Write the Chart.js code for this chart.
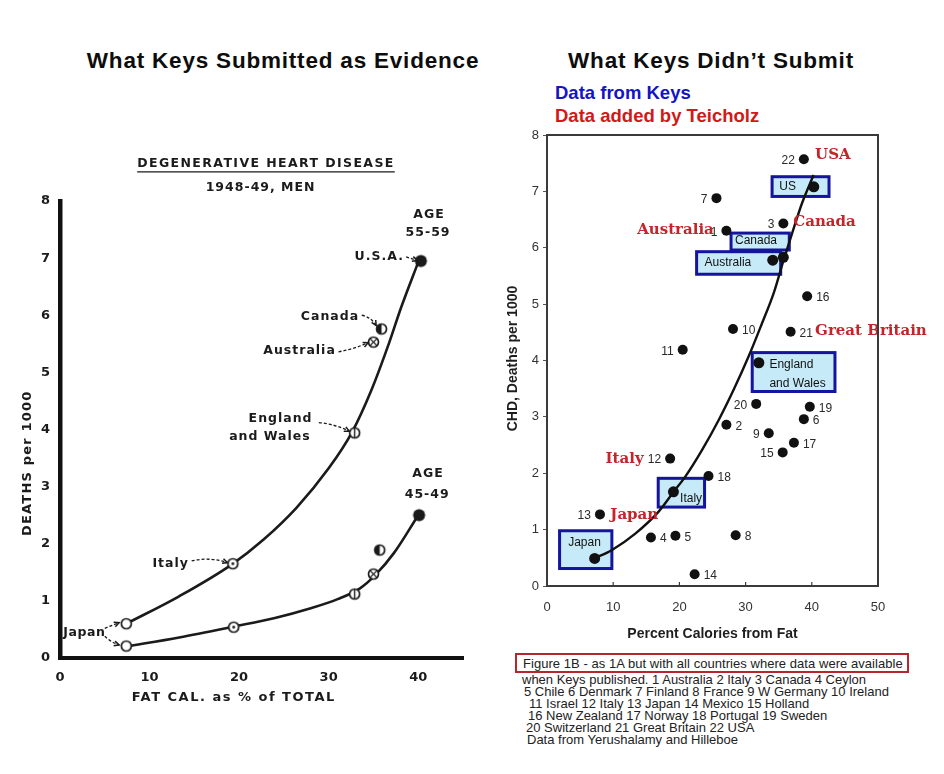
<!DOCTYPE html>
<html>
<head>
<meta charset="utf-8">
<script src="https://cdn.jsdelivr.net/npm/chart.js@4.4.1/dist/chart.umd.min.js"></script>
<style>
html,body{margin:0;padding:0;background:#fff;}
#wrap{position:relative;width:944px;height:774px;overflow:hidden;background:#fff;font-family:"Liberation Sans",Arial,sans-serif;}
.h{position:absolute;white-space:nowrap;font-weight:bold;}
.big{font-size:22.5px;line-height:24px;letter-spacing:0.8px;color:#0d0d0d;transform:translateX(-50%);}
.sub{font-size:18.5px;line-height:20px;}
.cap{position:absolute;white-space:nowrap;font-size:13px;line-height:14px;color:#222;}
#capbox{position:absolute;left:515px;top:653px;width:390px;height:16px;border:2px solid #b3272d;}
canvas{position:absolute;}
</style>
</head>
<body>
<div id="wrap">
  <div class="h big" style="left:283px;top:49px;">What Keys Submitted as Evidence</div>
  <div class="h big" style="left:711px;top:49px;">What Keys Didn’t Submit</div>
  <div class="h sub" style="left:555px;top:83px;color:#1414c4;">Data from Keys</div>
  <div class="h sub" style="left:555px;top:106px;color:#d21818;">Data added by Teicholz</div>

  <canvas id="left" width="470" height="580" style="left:0px;top:140px;"></canvas>
  <canvas id="right" width="454" height="530" style="left:490px;top:120px;"></canvas>

  <div id="capbox"></div>
  <div class="cap" style="left:523px;top:657px;letter-spacing:0.05px;">Figure 1B - as 1A but with all countries where data were available</div>
  <div class="cap" style="left:522px;top:673px;">when Keys published. 1 Australia 2 Italy 3 Canada 4 Ceylon</div>
  <div class="cap" style="left:524px;top:685px;">5 Chile 6 Denmark 7 Finland 8 France 9 W Germany 10 Ireland</div>
  <div class="cap" style="left:529px;top:697px;">11 Israel 12 Italy 13 Japan 14 Mexico 15 Holland</div>
  <div class="cap" style="left:528px;top:709px;">16 New Zealand 17 Norway 18 Portugal 19 Sweden</div>
  <div class="cap" style="left:526px;top:721px;">20 Switzerland 21 Great Britain 22 USA</div>
  <div class="cap" style="left:527px;top:733px;">Data from Yerushalamy and Hilleboe</div>
</div>

<script>
// ---------------- LEFT CHART DATA (Keys, 1948-49, men) ----------------
const leftCountries = ['Japan', 'Italy', 'England and Wales', 'Australia', 'Canada', 'U.S.A.'];
const leftMarkers   = ['open', 'dot', 'bar', 'cross', 'half', 'solid'];
const fat5559    = [7.4, 19.3, 32.9, 35.0, 35.9, 40.3];
const deaths5559 = [0.60, 1.65, 3.94, 5.53, 5.76, 6.95];
const fat4549    = [7.4, 19.4, 32.9, 35.0, 35.7, 40.1];
const deaths4549 = [0.21, 0.54, 1.12, 1.47, 1.89, 2.50];
// hand-drawn curves
const curve5559X = [7.4, 13.3, 19.2, 22.7, 26.4, 30.0, 32.6, 34.8, 36.6, 38.1, 40.1];
const curve5559Y = [0.60, 1.08, 1.64, 2.07, 2.63, 3.32, 3.95, 4.70, 5.45, 6.14, 6.97];
const curve4549X = [7.4, 13.3, 19.4, 24.0, 28.0, 31.0, 33.5, 35.2, 37.3, 40.0];
const curve4549Y = [0.20, 0.36, 0.55, 0.70, 0.87, 1.03, 1.22, 1.45, 1.84, 2.50];
const leftXTicks = [0, 10, 20, 30, 40];
const leftYTicks = [0, 1, 2, 3, 4, 5, 6, 7, 8];

// ---------------- RIGHT CHART DATA (all 22 countries) ----------------
const rightNums = ['1','2','3','4','5','6','7','8','9','10','11','12','13','14','15','16','17','18','19','20','21','22'];
const rightFat  = [27.1, 27.1, 35.7, 15.7, 19.4, 38.8, 25.6, 28.5, 33.5, 28.1, 20.5, 18.6, 8.0, 22.3, 35.6, 39.3, 37.3, 24.4, 39.7, 31.6, 36.8, 38.8];
const rightCHD  = [6.30, 2.86, 6.43, 0.86, 0.89, 2.96, 6.88, 0.90, 2.71, 4.56, 4.19, 2.26, 1.27, 0.21, 2.37, 5.14, 2.54, 1.95, 3.18, 3.23, 4.51, 7.57];
const rightLabelSide = ['l','r','l','r','r','r','l','r','l','r','l','l','l','r','l','r','r','r','r','l','r','l'];
const keysCountries = ['Japan', 'Italy', 'England and Wales', 'Australia', 'Canada', 'US'];
const keysFat = [7.2, 19.1, 32.0, 34.1, 35.7, 40.3];
const keysCHD = [0.49, 1.67, 3.96, 5.78, 5.83, 7.08];
const fitX = [7.19, 9.82, 13.34, 16.86, 19.12, 20.89, 23.41, 25.92, 28.19, 30.45, 32.48, 34.23, 35.74, 37.01, 38.52, 40.27];
const fitY = [0.49, 0.64, 0.93, 1.32, 1.67, 1.94, 2.41, 2.94, 3.48, 4.07, 4.66, 5.19, 5.78, 6.25, 6.79, 7.29];
const rightXTicks = [0, 10, 20, 30, 40, 50];
const rightYTicks = [0, 1, 2, 3, 4, 5, 6, 7, 8];

// ---------------- annotations ----------------
const INK = '#1b1b1b';
const NOTE_FONT = 'bold 12.5px "DejaVu Sans"';
const leftNotes = [
  {t:'DEGENERATIVE HEART DISEASE', x:23.0, y:8.65, a:'center', u:true, ls:'1.4px'},
  {t:'1948-49, MEN', x:22.4, y:8.23, a:'center'},
  {t:'AGE', x:41.2, y:7.76, a:'center'},
  {t:'55-59', x:41.1, y:7.44, a:'center'},
  {t:'U.S.A.', x:38.4, y:7.02, a:'right'},
  {t:'Canada', x:33.4, y:5.97, a:'right'},
  {t:'Australia', x:30.8, y:5.38, a:'right'},
  {t:'England', x:28.2, y:4.19, a:'right'},
  {t:'and Wales', x:28.0, y:3.87, a:'right'},
  {t:'AGE', x:41.1, y:3.22, a:'center'},
  {t:'45-49', x:41.0, y:2.85, a:'center'},
  {t:'Italy', x:14.4, y:1.65, a:'right'},
  {t:'Japan', x:0.35, y:0.44, a:'left', ls:'0.6px'}
];
const leftArrows = [
  {x1:38.65, y1:7.02, x2:39.9, y2:6.96, b:0},
  {x1:33.7, y1:6.0, x2:35.3, y2:5.82, b:4},
  {x1:31.1, y1:5.36, x2:34.4, y2:5.52, b:-2},
  {x1:28.9, y1:4.12, x2:32.3, y2:3.97, b:3},
  {x1:14.7, y1:1.70, x2:18.7, y2:1.67, b:5},
  {x1:5.0, y1:0.52, x2:6.6, y2:0.62, b:0},
  {x1:5.0, y1:0.38, x2:6.6, y2:0.23, b:-2}
];
const keysBoxes = [
  {x1:34.0, x2:42.6, y1:6.91, y2:7.26, tx:35.1, lines:['US'], ty:[7.08]},
  {x1:27.8, x2:36.6, y1:5.96, y2:6.26, tx:28.4, lines:['Canada'], ty:[6.12]},
  {x1:22.6, x2:35.3, y1:5.53, y2:5.93, tx:23.8, lines:['Australia'], ty:[5.73]},
  {x1:31.0, x2:43.5, y1:3.45, y2:4.14, tx:33.6, lines:['England','and Wales'], ty:[3.92, 3.58]},
  {x1:16.8, x2:23.8, y1:1.40, y2:1.91, tx:20.1, lines:['Italy'], ty:[1.54]},
  {x1:1.9, x2:9.8, y1:0.31, y2:0.98, tx:3.2, lines:['Japan'], ty:[0.76]}
];
const teicholzLabels = [
  {t:'USA', x:40.5, y:7.64, a:'left'},
  {t:'Canada', x:37.2, y:6.45, a:'left'},
  {t:'Australia', x:25.2, y:6.31, a:'right'},
  {t:'Great Britain', x:40.5, y:4.53, a:'left'},
  {t:'Italy', x:14.6, y:2.25, a:'right'},
  {t:'Japan', x:9.56, y:1.25, a:'left'}
];

function makeMarker(kind){
  const c = document.createElement('canvas');
  c.width = 15; c.height = 15;
  const g = c.getContext('2d');
  const cx = 7.5, cy = 7.5, r = 5;
  g.fillStyle = '#fff';
  g.beginPath(); g.arc(cx, cy, r, 0, Math.PI*2); g.fill();
  g.fillStyle = INK; g.strokeStyle = INK; g.lineWidth = 1.7;
  if (kind === 'solid') { g.beginPath(); g.arc(cx, cy, r+0.9, 0, Math.PI*2); g.fill(); }
  if (kind === 'half') { g.beginPath(); g.moveTo(cx, cy-r); g.arc(cx, cy, r, -Math.PI/2, Math.PI/2, true); g.closePath(); g.fill(); }
  g.beginPath(); g.arc(cx, cy, r, 0, Math.PI*2); g.stroke();
  if (kind === 'dot') { g.beginPath(); g.arc(cx, cy, 1.4, 0, Math.PI*2); g.fill(); }
  if (kind === 'bar') { g.lineWidth = 1.4; g.beginPath(); g.moveTo(cx, cy-r); g.lineTo(cx, cy+r); g.stroke(); }
  if (kind === 'cross') { const d = r*0.72; g.lineWidth = 1.3; g.beginPath(); g.moveTo(cx-d, cy-d); g.lineTo(cx+d, cy+d); g.moveTo(cx+d, cy-d); g.lineTo(cx-d, cy+d); g.stroke(); }
  return c;
}
const markerImgs = leftMarkers.map(makeMarker);

function drawArrow(ctx, x1, y1, x2, y2, bend){
  const dx = x2-x1, dy = y2-y1, len = Math.hypot(dx, dy) || 1;
  const nx = dy/len, ny = -dx/len;
  const cx = (x1+x2)/2 + nx*bend, cy = (y1+y2)/2 + ny*bend;
  ctx.save();
  ctx.lineWidth = 1.3; ctx.setLineDash([3, 2]);
  ctx.beginPath(); ctx.moveTo(x1, y1); ctx.quadraticCurveTo(cx, cy, x2, y2); ctx.stroke();
  ctx.setLineDash([]);
  const ang = Math.atan2(y2-cy, x2-cx), h = 5.5;
  ctx.lineWidth = 1.5;
  ctx.beginPath();
  ctx.moveTo(x2 - h*Math.cos(ang-0.45), y2 - h*Math.sin(ang-0.45));
  ctx.lineTo(x2, y2);
  ctx.lineTo(x2 - h*Math.cos(ang+0.45), y2 - h*Math.sin(ang+0.45));
  ctx.stroke();
  ctx.restore();
}

const leftPlugin = {
  id: 'leftNotes',
  afterDatasetsDraw(chart){
    const {ctx, chartArea, scales:{x, y}} = chart;
    const X = v => x.getPixelForValue(v), Y = v => y.getPixelForValue(v);
    ctx.save();
    ctx.fillStyle = INK; ctx.strokeStyle = INK;
    ctx.textBaseline = 'middle';
    ctx.font = NOTE_FONT;
    leftNotes.forEach(n => {
      ctx.letterSpacing = n.ls || '1px';
      ctx.textAlign = n.a;
      ctx.fillText(n.t, X(n.x), Y(n.y));
      if (n.u) {
        const w = ctx.measureText(n.t).width;
        const px = X(n.x), py = Y(n.y) + 8;
        ctx.lineWidth = 1.3;
        ctx.beginPath(); ctx.moveTo(px - w/2, py); ctx.lineTo(px + w/2, py); ctx.stroke();
      }
    });
    leftArrows.forEach(a => drawArrow(ctx, X(a.x1), Y(a.y1), X(a.x2), Y(a.y2), a.b));
    // axis titles
    ctx.font = 'bold 13px "DejaVu Sans"';
    ctx.letterSpacing = '1.5px';
    ctx.textAlign = 'center';
    ctx.fillText('FAT CAL. as % of TOTAL', X(19.4), chartArea.bottom + 40);
    ctx.save();
    ctx.translate(chartArea.left - 32, Y(3.41));
    ctx.rotate(-Math.PI/2);
    ctx.letterSpacing = '1.2px';
    ctx.fillText('DEATHS per 1000', 0, 0);
    ctx.restore();
    ctx.restore();
  }
};

const rightPlugin = {
  id: 'rightNotes',
  beforeDatasetsDraw(chart){
    const {ctx, scales:{x, y}} = chart;
    const X = v => x.getPixelForValue(v), Y = v => y.getPixelForValue(v);
    ctx.save();
    keysBoxes.forEach(b => {
      const l = X(b.x1), r = X(b.x2), t = Y(b.y2), bo = Y(b.y1);
      ctx.fillStyle = '#c6eaf8';
      ctx.fillRect(l, t, r-l, bo-t);
      ctx.strokeStyle = '#14149e'; ctx.lineWidth = 3;
      ctx.strokeRect(l, t, r-l, bo-t);
      ctx.fillStyle = '#111';
      ctx.font = '12px "Liberation Sans"';
      ctx.textAlign = 'left'; ctx.textBaseline = 'middle';
      b.lines.forEach((s, i) => ctx.fillText(s, X(b.tx), Y(b.ty[i])));
    });
    ctx.restore();
  },
  afterDatasetsDraw(chart){
    const {ctx, chartArea, scales:{x, y}} = chart;
    const X = v => x.getPixelForValue(v), Y = v => y.getPixelForValue(v);
    ctx.save();
    ctx.textBaseline = 'middle';
    ctx.font = '12px "Liberation Sans"';
    ctx.fillStyle = '#2a2a2a';
    rightNums.forEach((n, i) => {
      const left = rightLabelSide[i] === 'l';
      ctx.textAlign = left ? 'right' : 'left';
      ctx.fillText(n, X(rightFat[i]) + (left ? -9 : 9), Y(rightCHD[i]) + 1.5);
    });
    ctx.font = 'bold 15px "DejaVu Serif"';
    ctx.fillStyle = '#c4252b';
    teicholzLabels.forEach(l => {
      ctx.textAlign = l.a;
      ctx.fillText(l.t, X(l.x), Y(l.y));
    });
    // frame
    ctx.strokeStyle = '#3a3a3a'; ctx.lineWidth = 2;
    ctx.strokeRect(chartArea.left, chartArea.top, chartArea.right - chartArea.left, chartArea.bottom - chartArea.top);
    // inward ticks on x axis
    ctx.lineWidth = 1.2;
    rightXTicks.slice(1, -1).forEach(v => {
      ctx.beginPath(); ctx.moveTo(X(v), chartArea.bottom); ctx.lineTo(X(v), chartArea.bottom - 4); ctx.stroke();
    });
    // axis titles
    ctx.fillStyle = '#1e1e1e';
    ctx.font = 'bold 14px "Liberation Sans"';
    ctx.textAlign = 'center';
    ctx.fillText('Percent Calories from Fat', (chartArea.left + chartArea.right)/2, chartArea.bottom + 48);
    ctx.save();
    ctx.translate(23, (chartArea.top + chartArea.bottom)/2 - 2);
    ctx.rotate(-Math.PI/2);
    ctx.fillText('CHD, Deaths per 1000', 0, 0);
    ctx.restore();
    ctx.restore();
  }
};

const toXY = (xs, ys) => xs.map((v, i) => ({x: v, y: ys[i]}));

new Chart(document.getElementById('left'), {
  type: 'scatter',
  data: {
    datasets: [
      {label: 'Age 55-59', data: toXY(fat5559, deaths5559), pointStyle: c => markerImgs[c.dataIndex], pointRadius: 6, showLine: false},
      {label: 'Age 45-49', data: toXY(fat4549, deaths4549), pointStyle: c => markerImgs[c.dataIndex], pointRadius: 6, showLine: false},
      {label: 'curve 55-59', data: toXY(curve5559X, curve5559Y), showLine: true, pointRadius: 0, borderColor: INK, borderWidth: 2.6, cubicInterpolationMode: 'monotone', fill: false},
      {label: 'curve 45-49', data: toXY(curve4549X, curve4549Y), showLine: true, pointRadius: 0, borderColor: INK, borderWidth: 2.6, cubicInterpolationMode: 'monotone', fill: false}
    ]
  },
  options: {
    responsive: false, animation: false,
    layout: {padding: {top: 61, right: 4, left: 0, bottom: 0}},
    plugins: {legend: {display: false}, tooltip: {enabled: false}},
    scales: {
      x: {
        type: 'linear', min: 0, max: 45,
        afterFit: s => { s.height = 62; },
        afterBuildTicks: s => { s.ticks = leftXTicks.map(v => ({value: v})); },
        ticks: {font: {family: '"DejaVu Sans"', size: 13, weight: 'bold'}, color: INK, padding: 12, maxRotation: 0},
        grid: {display: false, drawTicks: false},
        border: {display: true, color: '#111', width: 4}
      },
      y: {
        type: 'linear', min: 0, max: 8,
        afterFit: s => { s.width = 60; },
        afterBuildTicks: s => { s.ticks = leftYTicks.map(v => ({value: v})); },
        ticks: {font: {family: '"DejaVu Sans"', size: 13, weight: 'bold'}, color: INK, padding: 10},
        grid: {display: false, drawTicks: false},
        border: {display: true, color: '#111', width: 4.5}
      }
    }
  },
  plugins: [leftPlugin]
});

new Chart(document.getElementById('right'), {
  type: 'scatter',
  data: {
    datasets: [
      {label: 'Countries', data: toXY(rightFat, rightCHD), pointStyle: 'circle', pointRadius: 5, backgroundColor: '#111', borderColor: '#111', borderWidth: 0},
      {label: 'Keys countries', data: toXY(keysFat, keysCHD), pointStyle: 'circle', pointRadius: 5.5, backgroundColor: '#111', borderColor: '#111', borderWidth: 0},
      {label: 'fit', data: toXY(fitX, fitY), showLine: true, pointRadius: 0, borderColor: '#111', borderWidth: 2.4, cubicInterpolationMode: 'monotone', fill: false}
    ]
  },
  options: {
    responsive: false, animation: false,
    layout: {padding: {top: 15, right: 66, left: 0, bottom: 0}},
    plugins: {legend: {display: false}, tooltip: {enabled: false}},
    scales: {
      x: {
        type: 'linear', min: 0, max: 50,
        afterFit: s => { s.height = 64; },
        afterBuildTicks: s => { s.ticks = rightXTicks.map(v => ({value: v})); },
        ticks: {font: {family: '"Liberation Sans"', size: 13}, color: '#333', padding: 14, maxRotation: 0},
        grid: {display: false, drawTicks: false},
        border: {display: true, color: '#3a3a3a', width: 2}
      },
      y: {
        type: 'linear', min: 0, max: 8,
        afterFit: s => { s.width = 57; },
        afterBuildTicks: s => { s.ticks = rightYTicks.map(v => ({value: v})); },
        ticks: {font: {family: '"Liberation Sans"', size: 13}, color: '#333', padding: 4},
        grid: {display: true, drawOnChartArea: false, drawTicks: true, tickLength: 4, color: '#555', lineWidth: 1},
        border: {display: true, color: '#3a3a3a', width: 2}
      }
    }
  },
  plugins: [rightPlugin]
});
</script>
</body>
</html>
